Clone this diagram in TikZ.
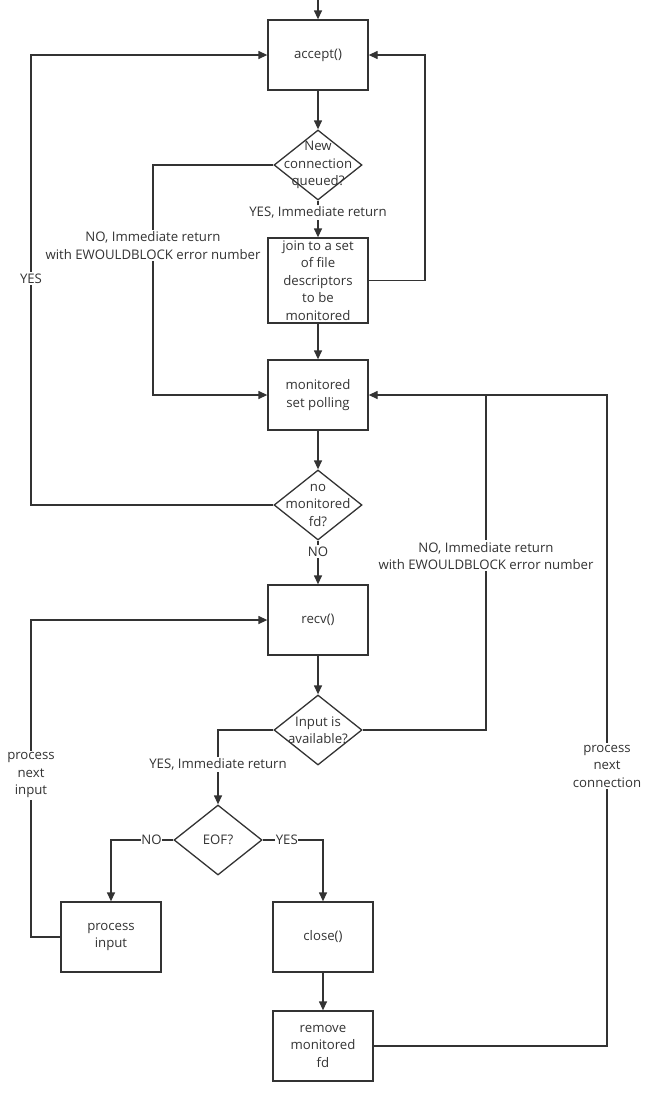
\documentclass[tikz,border=0pt]{standalone}
\usepackage{fontspec}
\setmainfont{Open Sans}
\usetikzlibrary{shapes.geometric,arrows.meta}
\definecolor{ink}{HTML}{333333}
\tikzset{
  every node/.style={text=ink, font=\fontsize{13.2}{17.5}\selectfont},
  box/.style={draw=ink, line width=1.3pt, minimum width=100pt, minimum height=70pt, inner sep=0pt, align=center},
  dia/.style={draw=ink, line width=1.3pt, diamond, minimum width=88pt, minimum height=70pt, inner sep=0pt},
  arr/.style={draw=ink, line width=1.3pt, -{Triangle[length=9pt,width=8pt]}},
  ln/.style={draw=ink, line width=1.3pt},
  lab/.style={fill=white, inner sep=1.5pt, align=center},
}
\begin{document}
\begin{tikzpicture}[x=1pt,y=-1pt]
\useasboundingbox (0,0) rectangle (654,1093);
\coordinate (top) at (318,0);
\node[box] (accept) at (318,55) {accept()};
\node[dia, label={[align=center]center:New\\connection\\queued?}] (d1) at (318,165) {};
\node[box, minimum height=85pt] (join) at (318,280.5) {join to a set\\of file\\descriptors\\to be\\monitored};
\node[box] (mon) at (318,395) {monitored\\set polling};
\node[dia, label={[align=center]center:no\\monitored\\fd?}] (d2) at (318,505) {};
\node[box] (recv) at (318,620) {recv()};
\node[dia, label={[align=center]center:Input is\\available?}] (d3) at (318,730) {};
\node[dia, label={center:EOF?}] (eof) at (218,840) {};
\node[box] (pin) at (111,937) {process\\input};
\node[box] (close) at (323,937) {close()};
\node[box] (remove) at (323,1046) {remove\\monitored\\fd};

\draw[arr] (top) -- (accept);
\draw[arr] (accept) -- (d1);
\draw[arr] (d1) -- node[lab, pos=0.33] (l1) {YES, Immediate return} (join);
\draw[arr] (join.east) -- (425,280.5) -- (425,55) -- (accept.east);
\draw[arr] (d1.west) -- (153,165) -- node[lab, pos=0.35] (l2) {NO, Immediate return\\with EWOULDBLOCK error number} (153,395) -- (mon.west);
\draw[arr] (join) -- (mon);
\draw[arr] (mon) -- (d2);
\draw[arr] (d2.west) -- (31,505) -- node[lab, pos=0.503] (l3) {YES} (31,55) -- (accept.west);
\draw[arr] (d2) -- node[lab, pos=0.25] (l4) {NO} (recv);
\draw[arr] (recv) -- (d3);
\draw[arr] (d3.east) -- (486,730) -- node[lab, pos=0.52] (l5) {NO, Immediate return\\with EWOULDBLOCK error number} (486,395) -- (mon.east);
\draw[arr] (d3.west) -- (218,730) -- node[lab, pos=0.46] (l6) {YES, Immediate return} (eof);
\draw[arr] (eof.west) -- node[lab, inner sep=0.5pt, pos=0.35] (l7) {NO} (111,840) -- (pin);
\draw[arr] (eof.east) -- node[lab, inner sep=0.5pt, pos=0.4] (l8) {YES} (323,840) -- (close);
\draw[arr] (close) -- (remove);
\draw[ln] (remove.east) -- (607,1046) -- node[lab, pos=0.43] (l9) {process\\next\\connection} (607,395) -- (486,395);
\draw[arr] (pin.west) -- (31,937) -- node[lab, pos=0.51] (l10) {process\\next\\input} (31,620) -- (recv.west);
\end{tikzpicture}
\end{document}
